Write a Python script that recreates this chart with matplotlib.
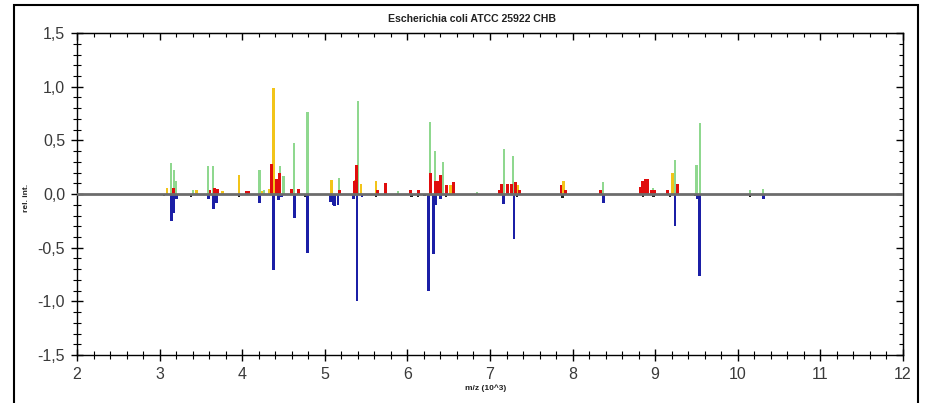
import matplotlib
matplotlib.use('Agg')
import matplotlib.pyplot as plt
import matplotlib.patches as mpatches
from matplotlib.ticker import MultipleLocator, FuncFormatter, NullFormatter

OUTPUT_FILE = "out.png"

# peak lists, m/z in thousands and relative intensity
green_mz = [3.14, 3.17, 3.20, 3.40, 3.59, 3.65, 4.21, 4.26, 4.46, 4.50, 4.63, 4.79,
            5.17, 5.40, 5.89, 6.27, 6.33, 6.435, 6.84, 7.17, 7.28, 8.37, 8.97,
            9.24, 9.50, 9.54, 10.15, 10.31]
green_int = [0.29, 0.22, 0.12, 0.04, 0.26, 0.26, 0.22, 0.04, 0.26, 0.17, 0.48, 0.76,
             0.15, 0.87, 0.03, 0.67, 0.40, 0.30, 0.02, 0.42, 0.35, 0.11, 0.06,
             0.32, 0.27, 0.66, 0.04, 0.05]

yellow_mz = [3.09, 3.45, 3.76, 3.96, 4.24, 4.33, 4.377, 5.08, 5.37, 5.44, 5.62,
             6.52, 7.33, 7.89, 9.21]
yellow_int = [0.06, 0.04, 0.03, 0.18, 0.03, 0.05, 0.99, 0.13, 0.13, 0.09, 0.12,
              0.08, 0.08, 0.12, 0.20]

red_mz = [3.17, 3.61, 3.66, 3.70, 4.05, 4.08, 4.36, 4.41, 4.45, 4.60, 4.68, 5.18,
          5.36, 5.38, 5.64, 5.74, 6.04, 6.13, 6.28, 6.34, 6.37, 6.40, 6.47, 6.56,
          7.12, 7.14, 7.21, 7.26, 7.31, 7.36, 7.86, 7.92, 8.34, 8.82, 8.85, 8.88,
          8.91, 8.95, 8.99, 9.15, 9.27]
red_int = [0.06, 0.04, 0.06, 0.05, 0.03, 0.03, 0.28, 0.14, 0.20, 0.05, 0.05, 0.04,
           0.12, 0.27, 0.04, 0.10, 0.04, 0.04, 0.20, 0.12, 0.12, 0.18, 0.08, 0.11,
           0.04, 0.09, 0.09, 0.09, 0.11, 0.04, 0.08, 0.04, 0.04, 0.07, 0.12, 0.14,
           0.14, 0.04, 0.04, 0.04, 0.09]

blue_mz = [3.14, 3.17, 3.20, 3.59, 3.65, 3.69, 4.21, 4.38, 4.44, 4.48, 4.63, 4.79,
           5.07, 5.10, 5.12, 5.16, 5.35, 5.39, 5.45, 6.26, 6.32, 6.34, 6.40, 7.16,
           7.29, 8.37, 9.24, 9.51, 9.54, 10.31]
blue_int = [-0.25, -0.18, -0.05, -0.05, -0.14, -0.08, -0.08, -0.71, -0.06, -0.03,
            -0.22, -0.55, -0.07, -0.10, -0.11, -0.10, -0.05, -1.00, -0.03, -0.90,
            -0.56, -0.10, -0.05, -0.09, -0.42, -0.08, -0.30, -0.05, -0.76, -0.05]

black_mz = [3.05, 3.38, 3.96, 4.76, 5.62, 6.05, 6.13, 6.21, 6.47, 7.33, 7.88,
            8.85, 8.98, 9.18, 9.48, 10.15]
black_int = [-0.02, -0.03, -0.03, -0.03, -0.03, -0.03, -0.03, -0.02, -0.03, -0.03,
             -0.04, -0.03, -0.03, -0.03, -0.02, -0.03]

x_ticks = [2, 3, 4, 5, 6, 7, 8, 9, 10, 11, 12]

TICK_FONT = ['Liberation Sans Narrow', 'Liberation Sans', 'DejaVu Sans']
LABEL_FONT = ['Liberation Sans', 'DejaVu Sans']


def comma_fmt(v, pos):
    return f"{v:.1f}".replace(".", ",").replace("-0,0", "0,0")


def draw():
    fig = plt.figure(figsize=(9.28, 4.03), dpi=100)
    fig.patch.set_facecolor("white")
    ax = fig.add_axes([0.083, 0.119, 0.890, 0.799])

    ax.bar(green_mz, green_int, width=0.027, color="#8fd88f", zorder=2)
    ax.bar(yellow_mz, yellow_int, width=0.032, color="#f2c419", zorder=3)
    ax.bar(red_mz, red_int, width=0.036, color="#e00d0d", zorder=4)
    ax.bar(blue_mz, blue_int, width=0.034, color="#1b1fa6", zorder=3)
    ax.bar(black_mz, black_int, width=0.03, color="#202020", zorder=3)

    ax.axhline(0, color="#6c6c6c", lw=2, zorder=5)

    ax.set_xlim(2, 12)
    ax.set_ylim(-1.5, 1.5)
    ax.set_xticks(x_ticks)
    ax.xaxis.set_minor_locator(MultipleLocator(0.2))
    ax.yaxis.set_major_locator(MultipleLocator(0.5))
    ax.yaxis.set_minor_locator(MultipleLocator(0.1))
    ax.yaxis.set_major_formatter(FuncFormatter(comma_fmt))

    for s in ax.spines.values():
        s.set_color("black")
        s.set_linewidth(1)

    ax.tick_params(axis="both", which="major", direction="inout", length=9,
                   width=1, color="black", labelcolor="#3a3a3a", pad=4)
    ax.tick_params(axis="both", which="minor", direction="inout", length=6,
                   width=0.8, color="black")
    for lab in ax.get_xticklabels() + ax.get_yticklabels():
        lab.set_family(TICK_FONT)
        lab.set_fontsize(11.5)

    # top and right axes only carry inward ticks
    top = ax.secondary_xaxis("top")
    top.set_xticks(x_ticks)
    top.xaxis.set_minor_locator(MultipleLocator(0.2))
    top.xaxis.set_major_formatter(NullFormatter())
    top.tick_params(which="major", direction="in", length=5, width=1)
    top.tick_params(which="minor", direction="in", length=3, width=0.8)
    right = ax.secondary_yaxis("right")
    right.yaxis.set_major_locator(MultipleLocator(0.5))
    right.yaxis.set_minor_locator(MultipleLocator(0.1))
    right.yaxis.set_major_formatter(NullFormatter())
    right.tick_params(which="major", direction="in", length=5, width=1)
    right.tick_params(which="minor", direction="in", length=3, width=0.8)

    fig.text(472 / 928, 0.952, "Escherichia coli ATCC 25922 CHB", ha="center",
             va="center", fontsize=7.6, fontweight="bold", color="#222222",
             family=LABEL_FONT)
    fig.text(486 / 928, 0.037, "m/z (10^3)", ha="center", va="center",
             fontsize=6, fontweight="bold", color="#222222", family=LABEL_FONT)
    fig.text(27 / 928, 0.51, "rel. int.", ha="center", va="center", rotation=90,
             fontsize=6, fontweight="bold", color="#222222", family=LABEL_FONT)

    # outer window frame
    frame = mpatches.Rectangle((14 / 928, -0.02), 904 / 928, 1.0076,
                               transform=fig.transFigure, fill=False,
                               edgecolor="black", lw=1.5, zorder=10)
    fig.patches.append(frame)

    fig.savefig(OUTPUT_FILE, dpi=100, facecolor="white")


if __name__ == "__main__":
    draw()
